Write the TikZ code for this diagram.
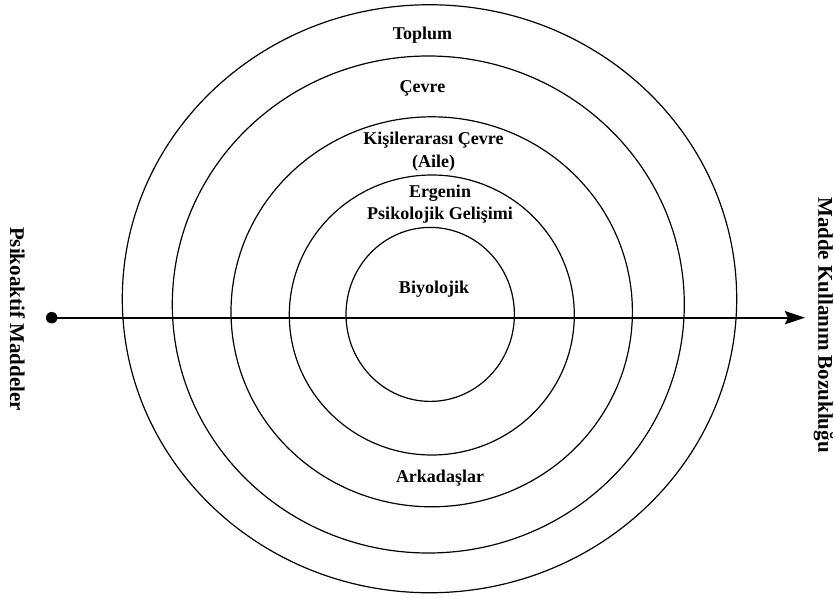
\documentclass[tikz,border=0pt]{standalone}
\usepackage{fontspec}
\setmainfont{Liberation Serif}
\usetikzlibrary{arrows.meta}
\begin{document}
\begin{tikzpicture}[x=1pt,y=-1pt,
  ring/.style={draw=black,line width=1.2pt},
  lbl/.style={font=\bfseries\fontsize{18}{22.5}\selectfont,align=center,inner sep=0pt},
  sidelbl/.style={font=\bfseries\fontsize{21}{24}\selectfont,inner sep=0pt,rotate=-90},
  mainarrow/.style={line width=2.4pt,-{Stealth[length=20pt,width=13pt,inset=3pt]}}]
\useasboundingbox (0,0) rectangle (835,599);
% rings
\draw[ring] (429.5,298.75) ellipse [x radius=307.2,y radius=294];
\draw[ring] (428.3,304.5) ellipse [x radius=256,y radius=248.5];
\draw[ring] (431.7,311.8) ellipse [x radius=200.7,y radius=195];
\draw[ring] (431.8,315) ellipse [x radius=142.5,y radius=140];
\draw[ring] (430.2,314.4) ellipse [x radius=84.2,y radius=87];
% labels
\node[lbl] (toplum) at (422.5,35) {Toplum};
\node[lbl] (cevre) at (422.5,88) {Çevre};
\node[lbl] (aile) at (433.5,151.5) {Kişilerarası Çevre\\(Aile)};
\node[lbl] (ergen) at (440,204) {Ergenin\\Psikolojik Gelişimi};
\node[lbl] (biyo) at (434,289) {Biyolojik};
\node[lbl] (arkadas) at (440,478) {Arkadaşlar};
\node[sidelbl] (psiko) at (17.5,319) {Psikoaktif Maddeler};
\node[sidelbl] (madde) at (823.5,325) {Madde Kullanım Bozukluğu};
% arrow
\node[circle,fill=black,inner sep=0pt,minimum size=11.5pt] (src) at (51.7,317.7) {};
\coordinate (dst) at (805,317.7);
\draw[mainarrow] (src.center) -- (dst);
\end{tikzpicture}
\end{document}
